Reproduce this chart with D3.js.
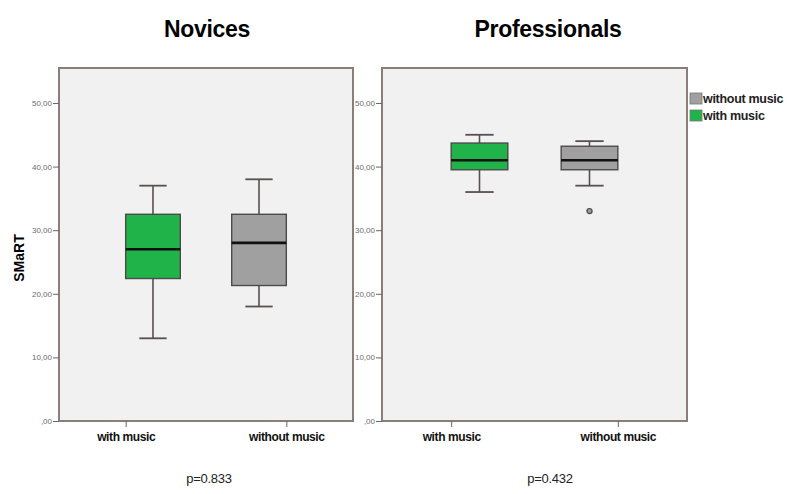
<!DOCTYPE html>
<head>
  <meta charset="utf-8">
  <script src="https://d3js.org/d3.v7.min.js"></script>
  <style>
    body { margin:0; background:#fff; font-family: Arial, "Liberation Sans", sans-serif; }
    .axis path { display:none; }
    .axis line { stroke:#6e6462; }
    .y.axis text { font-size:8px; fill:#6b6b6b; }
    .x.axis text { font-size:12px; font-weight:bold; fill:#111; letter-spacing:-0.4px; }
  </style>
</head>
<body>
<script>
  // ---- data ----
  var panels = ["Novices", "Professionals"];
  var categories = ["with music", "without music"];
  var groups = ["without music", "with music"];          // legend / cluster order
  // [min, q1, median, q3, max] per category
  var novicesStats = [[13, 22.4, 27, 32.5, 37], [18, 21.3, 28, 32.5, 38]];
  var professionalsStats = [[36, 39.5, 41, 43.7, 45], [37, 39.5, 41, 43.2, 44]];
  var novicesOutliers = [[], []];
  var professionalsOutliers = [[], [33]];
  var pValues = ["p=0.833", "p=0.432"];
  var yTicks = [0, 10, 20, 30, 40, 50];
  var yMax = 55.5;

  var colors = {"with music": "#20b34a", "without music": "#a0a0a0"};
  var frame = "#8a7e7b";

  var svg = d3.select("body").append("svg")
      .attr("width", 800).attr("height", 494);

  var plotTop = 68, plotBottom = 421;
  var layout = [
    {left: 59, right: 353, titleX: 207, stats: novicesStats, outliers: novicesOutliers},
    {left: 382, right: 687, titleX: 548, stats: professionalsStats, outliers: professionalsOutliers}
  ];

  var y = d3.scaleLinear().domain([0, yMax]).range([plotBottom, plotTop]);
  var fmt = function(d) { return d === 0 ? ",00" : d3.format(".2f")(d).replace(".", ","); };

  layout.forEach(function(p, i) {
    var g = svg.append("g");

    g.append("rect")
        .attr("x", p.left).attr("y", plotTop)
        .attr("width", p.right - p.left).attr("height", plotBottom - plotTop)
        .attr("fill", "#f1f1f1")
        .attr("stroke", frame).attr("stroke-width", 2);

    var x = d3.scalePoint().domain(categories).range([p.left, p.right]).padding(0.415);
    var half = x.step() * 0.34;
    var x1 = d3.scaleBand().domain(groups).range([-half, half]);
    var bw = x1.bandwidth();

    var yAxis = d3.axisLeft(y).tickValues(yTicks).tickFormat(fmt).tickSize(6).tickPadding(1);
    g.append("g").attr("class", "y axis")
        .attr("transform", "translate(" + p.left + ",0)")
        .call(yAxis);

    var xAxis = d3.axisBottom(x).tickSize(6).tickPadding(5);
    g.append("g").attr("class", "x axis")
        .attr("transform", "translate(0," + plotBottom + ")")
        .call(xAxis);

    var boxes = g.selectAll(".box")
        .data(categories.map(function(c, k) { return {cat: c, s: p.stats[k], out: p.outliers[k]}; }))
        .enter().append("g")
        .attr("class", "box")
        .attr("transform", function(d) {
            return "translate(" + (x(d.cat) + x1(d.cat) + bw / 2) + ",0)";
        });

    // whiskers
    boxes.append("line")
        .attr("x1", 0).attr("x2", 0)
        .attr("y1", function(d) { return y(d.s[0]); })
        .attr("y2", function(d) { return y(d.s[4]); })
        .attr("stroke", "#585050").attr("stroke-width", 1.6);
    [0, 4].forEach(function(k) {
      boxes.append("line")
          .attr("x1", -bw / 4).attr("x2", bw / 4)
          .attr("y1", function(d) { return y(d.s[k]); })
          .attr("y2", function(d) { return y(d.s[k]); })
          .attr("stroke", "#585050").attr("stroke-width", 1.8);
    });

    boxes.append("rect")
        .attr("x", -bw / 2).attr("width", bw)
        .attr("y", function(d) { return y(d.s[3]); })
        .attr("height", function(d) { return y(d.s[1]) - y(d.s[3]); })
        .attr("fill", function(d) { return colors[d.cat]; })
        .attr("stroke", "#4d4a4a").attr("stroke-width", 1.4);

    boxes.append("line")
        .attr("x1", -bw / 2).attr("x2", bw / 2)
        .attr("y1", function(d) { return y(d.s[2]); })
        .attr("y2", function(d) { return y(d.s[2]); })
        .attr("stroke", "#111").attr("stroke-width", 2.6);

    boxes.selectAll(".outlier")
        .data(function(d) { return d.out; })
        .enter().append("circle")
        .attr("class", "outlier")
        .attr("cx", 0).attr("cy", function(v) { return y(v); })
        .attr("r", 2.6)
        .attr("fill", "#9a9a9a").attr("stroke", "#4a4a4a").attr("stroke-width", 1.2);

    svg.append("text")
        .attr("x", p.titleX).attr("y", 37)
        .attr("text-anchor", "middle")
        .style("font-size", "23px").style("font-weight", "bold")
        .style("letter-spacing", "-0.3px")
        .text(panels[i]);

    svg.append("text")
        .attr("x", p.titleX + 2).attr("y", 483)
        .attr("text-anchor", "middle")
        .style("font-size", "13px").style("fill", "#222")
        .style("letter-spacing", "-0.3px")
        .text(pValues[i]);
  });

  svg.append("text")
      .attr("transform", "translate(24,258) rotate(-90)")
      .attr("text-anchor", "middle")
      .style("font-size", "14px").style("font-weight", "bold")
      .text("SMaRT");

  // legend
  var legend = svg.selectAll(".legend")
      .data(groups)
      .enter().append("g")
      .attr("class", "legend")
      .attr("transform", function(d, i) { return "translate(690," + (93 + i * 17) + ")"; });
  legend.append("rect")
      .attr("width", 12).attr("height", 11)
      .attr("fill", function(d) { return colors[d]; })
      .attr("stroke", "#777").attr("stroke-width", 0.8);
  legend.append("text")
      .attr("x", 13).attr("y", 10)
      .style("font-size", "12.5px").style("font-weight", "bold")
      .style("fill", "#222").style("letter-spacing", "-0.3px")
      .text(function(d) { return d; });
</script>
</body>
